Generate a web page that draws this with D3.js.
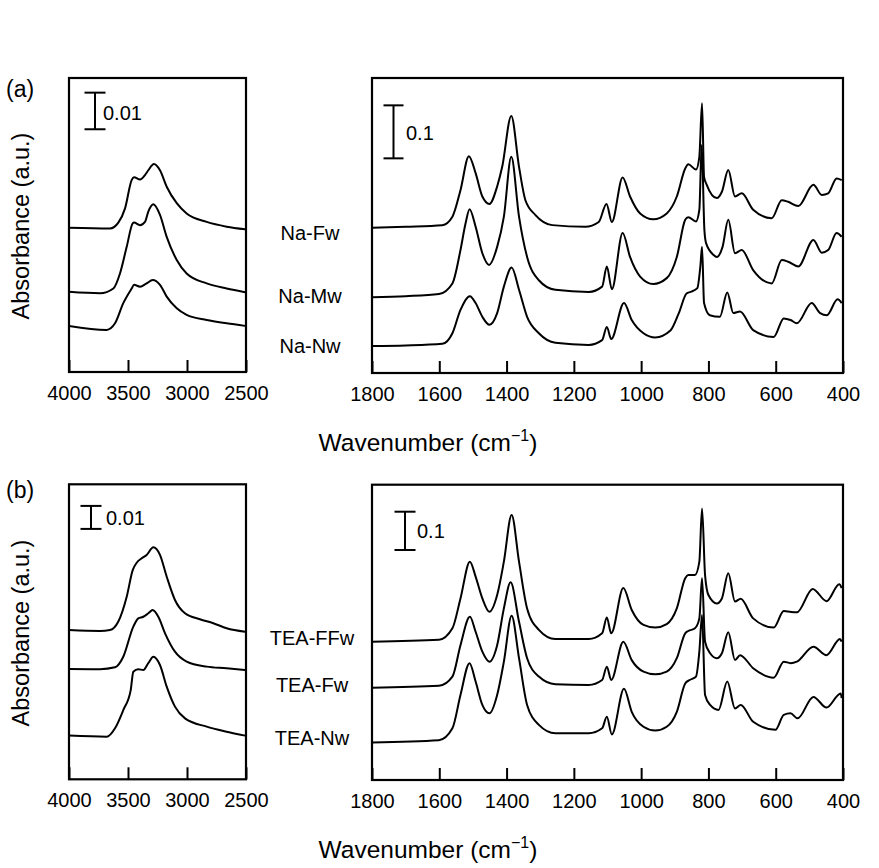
<!DOCTYPE html>
<html>
<head>
<meta charset="utf-8">
<script src="https://cdn.jsdelivr.net/npm/d3@7"></script>
<style>
  html, body { margin: 0; padding: 0; background: #fff; }
  svg { display: block; }
</style>
</head>
<body>
<svg id="chart" width="879" height="868"></svg>
<script>
// ---------------- DATA (wavenumber cm-1, absorbance) ----------------
const panelLabels = ["(a)", "(b)"];
const seriesNamesA = ["Na-Fw", "Na-Mw", "Na-Nw"];
const seriesNamesB = ["TEA-FFw", "TEA-Fw", "TEA-Nw"];
const ohTicks = [4000, 3500, 3000, 2500];
const fpTicks = [1800, 1600, 1400, 1200, 1000, 800, 600, 400];
const scaleBars = [0.01, 0.1, 0.01, 0.1];

// (a) O-H region
const naFwOH = [[4000,0.0394],[3653,0.0392],[3582,0.0408],[3525,0.0447],[3469,0.0524],[3449,0.0532],[3398,0.0526],[3356,0.0538],[3328,0.0551],[3280,0.0568],[3229,0.0551],[3172,0.0506],[3087,0.0461],[3003,0.0433],[2833,0.0410],[2664,0.0397],[2508,0.0390]];
const naMwOH = [[4000,0.0219],[3737,0.0215],[3624,0.0228],[3568,0.0269],[3511,0.0342],[3460,0.0406],[3449,0.0408],[3398,0.0401],[3356,0.0410],[3328,0.0438],[3285,0.0458],[3229,0.0429],[3172,0.0369],[3087,0.0306],[3003,0.0269],[2833,0.0242],[2664,0.0228],[2508,0.0218]];
const naNwOH = [[4000,0.0126],[3681,0.0115],[3610,0.0133],[3540,0.0188],[3469,0.0228],[3449,0.0238],[3398,0.0233],[3342,0.0242],[3291,0.0251],[3229,0.0238],[3172,0.0206],[3087,0.0174],[3003,0.0156],[2833,0.0142],[2664,0.0133],[2508,0.0126]];

// (a) fingerprint region
const naFwFP = [[1800,0.274],[1700,0.276],[1591,0.279],[1561,0.295],[1537,0.345],[1512,0.409],[1492,0.377],[1472,0.333],[1451,0.319],[1428,0.352],[1413,0.389],[1386,0.485],[1363,0.389],[1344,0.326],[1314,0.298],[1264,0.279],[1166,0.276],[1126,0.285],[1103,0.319],[1087,0.285],[1055,0.369],[1033,0.333],[1003,0.301],[964,0.290],[924,0.301],[894,0.333],[869,0.386],[860,0.394],[837,0.384],[827,0.408],[819,0.509],[813,0.370],[805,0.355],[775,0.330],[760,0.342],[741,0.383],[721,0.333],[701,0.339],[667,0.308],[612,0.292],[582,0.326],[563,0.323],[533,0.315],[488,0.355],[463,0.336],[444,0.339],[419,0.367],[404,0.364]];
const naMwFP = [[1800,0.143],[1700,0.145],[1601,0.149],[1561,0.169],[1537,0.232],[1522,0.282],[1510,0.309],[1492,0.276],[1472,0.226],[1452,0.204],[1428,0.238],[1408,0.295],[1386,0.408],[1363,0.295],[1339,0.219],[1304,0.175],[1255,0.157],[1156,0.153],[1116,0.163],[1102,0.201],[1087,0.158],[1055,0.264],[1033,0.219],[1003,0.182],[964,0.168],[924,0.179],[894,0.219],[869,0.289],[860,0.294],[837,0.286],[827,0.308],[820,0.430],[812,0.270],[807,0.245],[785,0.223],[775,0.219],[758,0.238],[741,0.289],[721,0.226],[701,0.232],[667,0.194],[612,0.169],[582,0.213],[563,0.210],[533,0.201],[488,0.251],[463,0.227],[444,0.232],[419,0.264],[404,0.257]];
const naNwFP = [[1800,0.051],[1700,0.052],[1591,0.055],[1561,0.075],[1537,0.119],[1509,0.145],[1492,0.132],[1472,0.106],[1451,0.091],[1428,0.113],[1408,0.163],[1385,0.199],[1363,0.157],[1339,0.106],[1304,0.075],[1255,0.057],[1156,0.053],[1116,0.062],[1102,0.087],[1089,0.064],[1051,0.132],[1028,0.100],[993,0.075],[958,0.067],[913,0.080],[888,0.113],[865,0.150],[853,0.153],[833,0.160],[824,0.201],[819,0.238],[813,0.132],[796,0.109],[766,0.106],[744,0.152],[726,0.113],[706,0.116],[667,0.081],[606,0.068],[576,0.103],[556,0.100],[537,0.094],[493,0.132],[468,0.113],[448,0.109],[416,0.139],[404,0.132]];

// (b) O-H region
const teaFFwOH = [[4000,0.0649],[3737,0.0645],[3653,0.0649],[3582,0.0686],[3511,0.0794],[3460,0.0910],[3426,0.0942],[3384,0.0961],[3342,0.0976],[3285,0.1009],[3229,0.0976],[3172,0.0881],[3102,0.0780],[3017,0.0722],[2890,0.0696],[2777,0.0679],[2664,0.0657],[2508,0.0642]];
const teaFwOH = [[4000,0.0480],[3737,0.0479],[3610,0.0487],[3540,0.0533],[3455,0.0664],[3413,0.0700],[3370,0.0707],[3328,0.0722],[3291,0.0736],[3243,0.0707],[3186,0.0635],[3102,0.0555],[3003,0.0512],[2833,0.0490],[2664,0.0483],[2508,0.0475]];
const teaNwOH = [[4000,0.0190],[3681,0.0185],[3610,0.0222],[3540,0.0301],[3477,0.0388],[3455,0.0468],[3413,0.0479],[3370,0.0475],[3328,0.0505],[3285,0.0533],[3229,0.0497],[3172,0.0403],[3102,0.0316],[3017,0.0265],[2833,0.0229],[2664,0.0207],[2508,0.0190]];

// (b) fingerprint region
const teaFFwFP = [[1800,0.361],[1601,0.366],[1561,0.396],[1537,0.474],[1509,0.570],[1492,0.531],[1472,0.474],[1451,0.439],[1428,0.483],[1408,0.570],[1385,0.692],[1363,0.570],[1339,0.448],[1304,0.392],[1255,0.368],[1156,0.368],[1116,0.383],[1102,0.424],[1089,0.383],[1053,0.501],[1028,0.444],[993,0.405],[958,0.398],[924,0.407],[894,0.448],[869,0.527],[860,0.535],[840,0.535],[827,0.570],[819,0.709],[810,0.535],[800,0.483],[775,0.461],[760,0.474],[741,0.540],[721,0.466],[704,0.473],[667,0.422],[606,0.398],[576,0.441],[556,0.439],[537,0.438],[490,0.499],[449,0.467],[411,0.511],[404,0.501]];
const teaFwFP = [[1800,0.241],[1601,0.246],[1561,0.270],[1537,0.352],[1509,0.426],[1492,0.387],[1472,0.335],[1451,0.309],[1428,0.352],[1408,0.448],[1388,0.516],[1363,0.413],[1339,0.318],[1304,0.270],[1255,0.250],[1156,0.248],[1116,0.261],[1102,0.296],[1089,0.261],[1053,0.361],[1028,0.313],[993,0.283],[958,0.276],[924,0.283],[894,0.318],[869,0.383],[860,0.389],[840,0.396],[827,0.422],[819,0.527],[810,0.361],[795,0.331],[775,0.318],[760,0.331],[741,0.386],[721,0.313],[706,0.326],[667,0.292],[606,0.267],[576,0.309],[556,0.305],[537,0.309],[488,0.348],[449,0.326],[409,0.368],[404,0.361]];
const teaNwFP = [[1800,0.098],[1601,0.104],[1561,0.135],[1537,0.222],[1510,0.305],[1492,0.257],[1472,0.196],[1451,0.174],[1428,0.222],[1408,0.309],[1385,0.429],[1363,0.318],[1339,0.196],[1304,0.144],[1255,0.122],[1156,0.122],[1116,0.135],[1102,0.165],[1087,0.119],[1051,0.238],[1028,0.178],[993,0.139],[958,0.129],[924,0.139],[894,0.178],[869,0.252],[856,0.261],[837,0.270],[827,0.335],[819,0.431],[810,0.222],[795,0.196],[770,0.183],[744,0.257],[721,0.187],[704,0.196],[667,0.152],[601,0.131],[576,0.170],[556,0.174],[535,0.161],[488,0.217],[449,0.189],[407,0.226],[404,0.214]];

// ---------------- LAYOUT ----------------
const FONT = "'Liberation Sans', Arial, Helvetica, sans-serif";
const svg = d3.select("#chart");

const panels = [
  {x0:69,  x1:246, y0:78,    y1:372,   xd:[4000,2500], yd:[0,0.0803], ticks:ohTicks, series:[naFwOH,naMwOH,naNwOH],
   bar:{x:95, base:0.0663, v:scaleBars[0], cap:10.5, lx:103, ly:120}},
  {x0:372, x1:843, y0:78,    y1:373,   xd:[1800,400],  yd:[0,0.5566], ticks:fpTicks, series:[naFwFP,naMwFP,naNwFP],
   bar:{x:393.5, base:0.405, v:scaleBars[1], cap:10, lx:406, ly:140}},
  {x0:69,  x1:246, y0:484.3, y1:779.3, xd:[4000,2500], yd:[0,0.1283], ticks:ohTicks, series:[teaFFwOH,teaFwOH,teaNwOH],
   bar:{x:91, base:0.1089, v:scaleBars[2], cap:10.5, lx:106, ly:525}},
  {x0:372, x1:843, y0:484.7, y1:780,   xd:[1800,400],  yd:[0,0.771],  ticks:fpTicks, series:[teaFFwFP,teaFwFP,teaNwFP],
   bar:{x:405, base:0.6005, v:scaleBars[3], cap:10.5, lx:417, ly:538}}
];

panels.forEach((p, i) => {
  const x = d3.scaleLinear().domain(p.xd).range([p.x0, p.x1]);
  const y = d3.scaleLinear().domain(p.yd).range([p.y1, p.y0]);
  const g = svg.append("g");

  const clipId = "clip" + i;
  svg.append("clipPath").attr("id", clipId).append("rect")
    .attr("x", p.x0).attr("y", p.y0).attr("width", p.x1 - p.x0).attr("height", p.y1 - p.y0);

  const line = d3.line().x(d => x(d[0])).y(d => y(d[1])).curve(d3.curveMonotoneX);
  g.append("g").attr("clip-path", `url(#${clipId})`)
    .selectAll("path").data(p.series).join("path")
    .attr("d", line).attr("fill", "none").attr("stroke", "#000")
    .attr("stroke-width", 2).attr("stroke-linejoin", "round");

  // axis (ticks inward)
  const ax = g.append("g").attr("transform", `translate(0,${p.y1})`)
    .call(d3.axisBottom(x).tickValues(p.ticks).tickFormat(d3.format("d"))
      .tickSizeInner(-12).tickSizeOuter(0).tickPadding(14));
  ax.select(".domain").remove();
  ax.selectAll("line").attr("stroke", "#000").attr("stroke-width", 2);
  ax.selectAll("text").attr("font-family", FONT).attr("font-size", 20).attr("fill", "#000");

  // frame
  g.append("rect").attr("x", p.x0).attr("y", p.y0)
    .attr("width", p.x1 - p.x0).attr("height", p.y1 - p.y0)
    .attr("fill", "none").attr("stroke", "#000").attr("stroke-width", 2.2);

  // scale bar
  const b = p.bar;
  const yb0 = y(b.base), yb1 = y(b.base + b.v);
  g.append("line").attr("x1", b.x).attr("x2", b.x).attr("y1", yb0).attr("y2", yb1)
    .attr("stroke", "#000").attr("stroke-width", 2);
  [yb0, yb1].forEach(yy => g.append("line")
    .attr("x1", b.x - b.cap).attr("x2", b.x + b.cap).attr("y1", yy).attr("y2", yy)
    .attr("stroke", "#000").attr("stroke-width", 2));
  g.append("text").attr("x", b.lx).attr("y", b.ly).text(String(b.v))
    .attr("font-family", FONT).attr("font-size", 20).attr("fill", "#000");
});

// series labels
const labA = [240, 302.5, 353];
const labB = [645, 691.5, 745];
seriesNamesA.forEach((s, i) => svg.append("text").attr("x", 310).attr("y", labA[i])
  .attr("text-anchor", "middle").attr("font-family", FONT).attr("font-size", 20).text(s));
seriesNamesB.forEach((s, i) => svg.append("text").attr("x", 312).attr("y", labB[i])
  .attr("text-anchor", "middle").attr("font-family", FONT).attr("font-size", 20).text(s));

// panel letters
[[6, 97], [6, 498]].forEach((pos, i) => svg.append("text").attr("x", pos[0]).attr("y", pos[1])
  .attr("font-family", FONT).attr("font-size", 23).text(panelLabels[i]));

// y titles
[226, 633].forEach(cy => svg.append("text")
  .attr("transform", `translate(29,${cy}) rotate(-90)`)
  .attr("text-anchor", "middle").attr("font-family", FONT).attr("font-size", 23.5)
  .text("Absorbance (a.u.)"));

// x titles
[451, 858].forEach(by => {
  const t = svg.append("text").attr("x", 428).attr("y", by).attr("text-anchor", "middle")
    .attr("font-family", FONT).attr("font-size", 24.5);
  t.append("tspan").text("Wavenumber (cm");
  t.append("tspan").attr("dy", -10).attr("font-size", 16).text("\u22121");
  t.append("tspan").attr("dy", 10).text(")");
});
</script>
</body>
</html>
